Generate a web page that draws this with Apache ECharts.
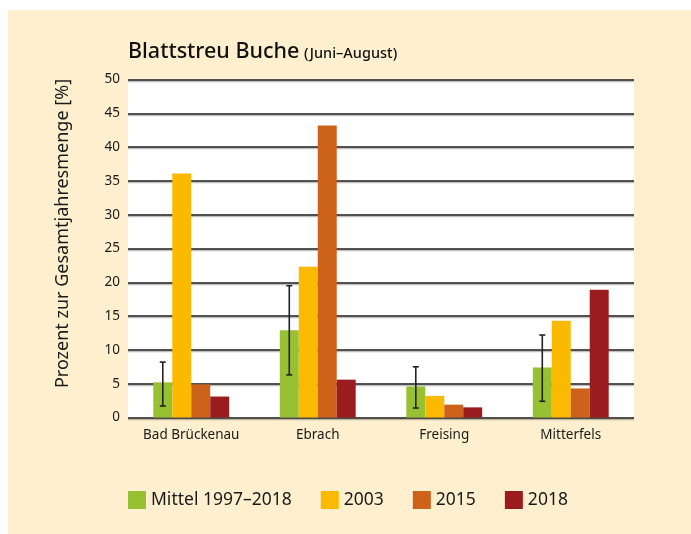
<!DOCTYPE html>
<html>
<head>
<meta charset="utf-8">
<script src="https://cdn.jsdelivr.net/npm/echarts@6/dist/echarts.min.js"></script>
<style>
  html, body { margin: 0; padding: 0; background: #fff; }
  #box { position: absolute; left: 8px; top: 10px; width: 683px; height: 524px; background: #fef0cf; }
</style>
</head>
<body>
<div id="box"></div>
<script>
// values
const categories = ['Bad Brückenau', 'Ebrach', 'Freising', 'Mitterfels'];
const mittel = [5.2, 12.9, 4.6, 7.4];
const y2003 = [36.1, 22.3, 3.2, 14.3];
const y2015 = [4.9, 43.2, 1.9, 4.3];
const y2018 = [3.1, 5.6, 1.5, 18.9];
// spread of the long-term mean (whiskers on the green bars)
const errLow = [1.7, 6.3, 1.4, 2.4];
const errHigh = [8.2, 19.5, 7.5, 12.2];

const seriesNames = ['Mittel 1997–2018', '2003', '2015', '2018'];
const colors = ['#97c133', '#fbba00', '#cd621a', '#9b1c1f'];
const gapPct = 0.4;

const font = '"Noto Sans", "Open Sans", sans-serif';
const chart = echarts.init(document.getElementById('box'));

function bar(name, data, color) {
  return {
    name: name,
    type: 'bar',
    data: data,
    barGap: 0,
    barCategoryGap: (gapPct * 100) + '%',
    itemStyle: { color: color },
    z: 2
  };
}

const errData = categories.map((c, i) => [i, errLow[i], errHigh[i]]);

chart.setOption({
  backgroundColor: 'transparent',
  animation: false,
  textStyle: { fontFamily: font },
  title: {
    left: 120,
    top: 31,
    padding: 0,
    text: '{a|Blattstreu Buche} {b|(Juni–August)}',
    textStyle: {
      rich: {
        a: { fontSize: 21.5, fontWeight: 500, color: '#111', fontFamily: font },
        b: { fontSize: 14.5, fontWeight: 500, color: '#111', fontFamily: font, padding: [4, 0, 0, 0] }
      }
    }
  },
  legend: {
    data: seriesNames,
    left: 120,
    top: 481,
    padding: 0,
    itemWidth: 18,
    itemHeight: 18,
    itemGap: 29,
    icon: 'rect',
    textStyle: { fontSize: 17.5, color: '#1a1a1a', fontFamily: font }
  },
  grid: {
    left: 120,
    right: 57,
    top: 69.5,
    bottom: 116.5,
    show: true,
    backgroundColor: '#ffffff',
    borderWidth: 0
  },
  xAxis: {
    type: 'category',
    data: categories,
    axisLine: { show: false },
    axisTick: { show: false },
    axisLabel: { fontSize: 13.5, color: '#1a1a1a', margin: 11 }
  },
  yAxis: {
    type: 'value',
    min: 0,
    max: 50,
    interval: 5,
    name: 'Prozent zur Gesamtjahresmenge [%]',
    nameLocation: 'middle',
    nameGap: 56,
    nameTextStyle: { fontSize: 18, color: '#1a1a1a', padding: [0, 0, 0, 30] },
    axisLine: { show: false },
    axisTick: { show: false },
    axisLabel: { fontSize: 13.5, color: '#1a1a1a', margin: 8 },
    splitLine: {
      lineStyle: { color: '#1a1a1a', width: 1.5, shadowColor: 'rgba(0,0,0,0.25)', shadowOffsetY: 1.5, shadowBlur: 0 }
    }
  },
  series: [
    bar(seriesNames[0], mittel, colors[0]),
    bar(seriesNames[1], y2003, colors[1]),
    bar(seriesNames[2], y2015, colors[2]),
    bar(seriesNames[3], y2018, colors[3]),
    {
      type: 'custom',
      name: 'Streuung',
      data: errData,
      z: 5,
      renderItem: function (params, api) {
        const idx = api.value(0);
        const band = api.size([1, 0])[0];
        const barW = band * (1 - gapPct) / 4;
        const cx = api.coord([idx, 0])[0] - 1.5 * barW;
        const yLo = api.coord([idx, api.value(1)])[1];
        const yHi = api.coord([idx, api.value(2)])[1];
        const st = { stroke: '#222', lineWidth: 1.6 };
        const cap = 3;
        return {
          type: 'group',
          children: [
            { type: 'line', shape: { x1: cx, y1: yLo, x2: cx, y2: yHi }, style: st },
            { type: 'line', shape: { x1: cx - cap, y1: yLo, x2: cx + cap, y2: yLo }, style: st },
            { type: 'line', shape: { x1: cx - cap, y1: yHi, x2: cx + cap, y2: yHi }, style: st }
          ]
        };
      }
    }
  ]
});
</script>
</body>
</html>
